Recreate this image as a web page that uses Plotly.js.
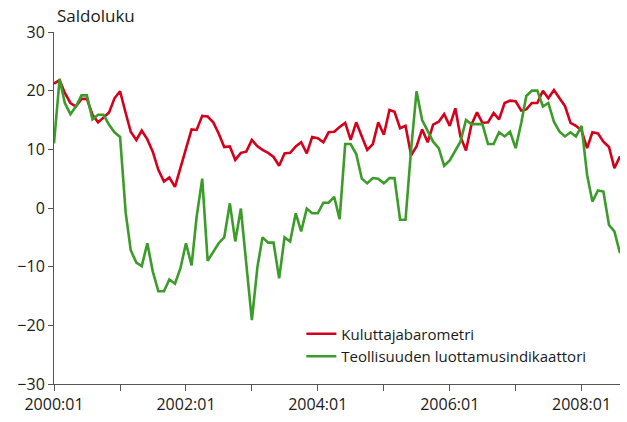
<!DOCTYPE html>
<html>
<head>
<meta charset="utf-8">
<script src="https://cdn.plot.ly/plotly-3.0.1.min.js"></script>
<style>html,body{margin:0;padding:0;background:#fff;}#chart{width:627px;height:422px;}</style>
</head>
<body>
<div id="chart"></div>
<script>
const startYear = 2000;
const nMonths = 104;
const months = [];
for (let k = 0; k < nMonths; k++) {
  const y = startYear + Math.floor(k / 12);
  const m = (k % 12) + 1;
  months.push(y + '-' + (m < 10 ? '0' + m : m) + '-01');
}

const kuluttajabarometri = [
  21.2, 21.8, 19.6, 17.9, 17.3, 18.6, 18.6, 15.9, 14.6, 15.5, 16.3, 18.7,
  19.9, 16.2, 13.0, 11.6, 13.2, 11.7, 9.6, 6.5, 4.5, 5.2, 3.6, 6.8,
  10.2, 13.4, 13.3, 15.7, 15.6, 14.6, 12.7, 10.4, 10.5, 8.2, 9.4, 9.6,
  11.6, 10.5, 9.9, 9.4, 8.7, 7.2, 9.3, 9.4, 10.5, 11.2, 9.3, 12.1,
  11.9, 11.2, 12.9, 13.0, 13.8, 14.5, 11.6, 14.6, 12.2, 9.9, 10.9, 14.6,
  12.5, 16.7, 16.4, 13.6, 14.0, 9.0, 10.5, 13.4, 11.2, 14.2, 14.7, 16.0,
  14.0, 17.0, 12.2, 9.8, 14.2, 16.3, 14.5, 14.6, 16.2, 15.1, 17.9, 18.3,
  18.2, 16.6, 16.8, 17.9, 17.9, 20.0, 18.7, 20.1, 18.7, 17.4, 14.5, 14.0,
  13.2, 10.2, 12.9, 12.7, 11.3, 10.4, 6.8, 8.8
];

const teollisuus = [
  11.0, 22.0, 17.9, 16.0, 17.3, 19.2, 19.2, 15.1, 15.9, 15.9, 14.2, 12.9,
  12.1, -0.8, -7.2, -9.3, -9.9, -6.0, -10.8, -14.2, -14.2, -12.2, -12.9, -10.3,
  -6.0, -9.8, -1.5, 5.0, -9.0, -7.5, -6.0, -5.0, 0.8, -5.7, -0.1, -9.5,
  -19.1, -10.0, -5.0, -5.9, -5.9, -12.0, -5.0, -5.7, -0.9, -4.0, -0.1, -0.9,
  -0.9, 0.9, 0.9, 1.9, -1.9, 10.9, 10.9, 9.2, 5.0, 4.2, 5.1, 5.0,
  4.2, 5.1, 5.1, -2.0, -2.0, 10.0, 19.9, 15.0, 13.0, 11.3, 10.2, 7.2,
  8.1, 9.8, 11.3, 15.0, 14.3, 14.3, 14.3, 10.9, 10.9, 12.9, 12.2, 13.0,
  10.2, 14.5, 19.1, 20.0, 20.0, 17.3, 17.9, 14.7, 13.0, 12.2, 12.9, 12.2,
  14.0, 5.6, 1.1, 3.0, 2.8, -2.9, -4.0, -7.7
];

const seriesNames = ['Kuluttajabarometri', 'Teollisuuden luottamusindikaattori'];
const yTickVals = [-30, -20, -10, 0, 10, 20, 30];
const yTitle = 'Saldoluku';

const FONT = '"Open Sans", "Noto Sans", sans-serif';

const traces = [
  { x: months, y: kuluttajabarometri, name: seriesNames[0], type: 'scatter', mode: 'lines',
    line: { color: '#d4001c', width: 2.6 } },
  { x: months, y: teollisuus, name: seriesNames[1], type: 'scatter', mode: 'lines',
    line: { color: '#3c9c2a', width: 2.6 } }
];

const layout = {
  width: 627, height: 422,
  margin: { l: 54, r: 7, t: 32, b: 38 },
  paper_bgcolor: '#fff', plot_bgcolor: '#fff',
  font: { family: FONT, size: 16, color: '#1a1a1a' },
  showlegend: true,
  legend: {
    x: 0.437, y: 0.189, xanchor: 'left', yanchor: 'top',
    bgcolor: 'rgba(0,0,0,0)', font: { family: FONT, size: 15, color: '#1a1a1a' }
  },
  title: {
    text: yTitle, font: { family: FONT, size: 17, color: '#1a1a1a' },
    xref: 'container', yref: 'container', x: 57 / 627, xanchor: 'left', y: 1 - 16 / 422, yanchor: 'middle'
  },
  xaxis: {
    type: 'date',
    range: ['2000-01-01', '2008-08-01'],
    tick0: '2000-01-01', dtick: 'M24', tickformat: '%Y:%m',
    ticks: 'outside', ticklen: 6, tickcolor: '#555', tickwidth: 1,
    minor: { dtick: 'M12', tick0: '2000-01-01', ticks: 'outside', ticklen: 6, tickcolor: '#555', showgrid: false },
    showline: true, linecolor: '#555', linewidth: 1,
    showgrid: false, zeroline: false,
    tickfont: { family: FONT, size: 16, color: '#1a1a1a' }
  },
  yaxis: {
    range: [-30, 30], tickvals: yTickVals,
    ticks: 'outside', ticklen: 5, tickcolor: '#555', tickwidth: 1,
    showline: true, linecolor: '#555', linewidth: 1,
    showgrid: false, zeroline: false,
    tickfont: { family: FONT, size: 16, color: '#1a1a1a' }
  }
};

Plotly.newPlot('chart', traces, layout, { staticPlot: true, displayModeBar: false });
</script>
</body>
</html>
